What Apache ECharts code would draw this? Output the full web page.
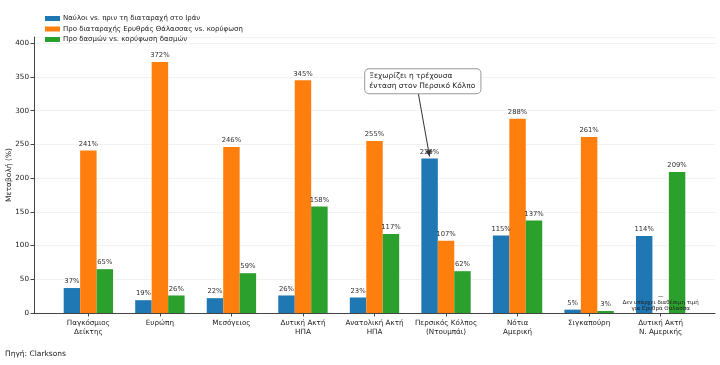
<!DOCTYPE html>
<html><head><meta charset="utf-8">
<script src="https://cdn.jsdelivr.net/npm/echarts@6/dist/echarts.min.js"></script>
<style>html,body{margin:0;padding:0;background:#fff}#c{width:720px;height:365px}</style>
</head><body><div id="c"></div>
<script>
const categories = ['Παγκόσμιος\nΔείκτης','Ευρώπη','Μεσόγειος','Δυτική Ακτή\nΗΠΑ','Ανατολική Ακτή\nΗΠΑ','Περσικός Κόλπος\n(Ντουμπάι)','Νότια\nΑμερική','Σιγκαπούρη','Δυτική Ακτή\nΝ. Αμερικής'];
const seriesNames = ['Ναύλοι vs. πριν τη διαταραχή στο Ιράν','Προ διαταραχής Ερυθράς Θάλασσας vs. κορύφωση','Προ δασμών vs. κορύφωση δασμών'];
const iranVals = [37, 19, 22, 26, 23, 229, 115, 5, 114];
const redSeaVals = [241, 372, 246, 345, 255, 107, 288, 261, null];
const tariffVals = [65, 26, 59, 158, 117, 62, 137, 3, 209];
const yTicks = [0,50,100,150,200,250,300,350,400];
const colors = ['#1f77b4','#ff7f0e','#2ca02c'];
const font = 'DejaVu Sans';
const off = 0.23;
function pts(vals, o){ return vals.map((v,i)=> v==null ? null : [i+o, v]).filter(p=>p); }
function mkSeries(name, vals, o, color){
  return {
    type:'custom', name, data: pts(vals,o), itemStyle:{color},
    encode:{x:0, y:1},
    renderItem:function(params, api){
      const x = api.value(0), y = api.value(1);
      const p0 = api.coord([x,0]), p1 = api.coord([x,y]);
      const w = api.size([off,0])[0];
      return {
        type:'rect',
        shape:{x:p0[0]-w/2, y:p1[1], width:w, height:p0[1]-p1[1]},
        style:{fill:color},
        textContent:{style:{text:y+'%', fontSize:6.8, fontFamily:font, fill:'#333'}},
        textConfig:{position:'top', distance:3}
      };
    }
  };
}
const chart = echarts.init(document.getElementById('c'), null, {renderer:'canvas'});
chart.setOption({
  animation:false,
  backgroundColor:'#fff',
  textStyle:{fontFamily:font},
  grid:{left:34, right:5, top:37, bottom:52, containLabel:false, outerBoundsMode:'none'},
  legend:{orient:'vertical', left:40, top:10, itemWidth:15, itemHeight:5, itemGap:3.5, icon:'rect',
    textStyle:{fontSize:7, fontFamily:font, color:'#222', padding:[0,0,0,-2]}, data:seriesNames},
  xAxis:{type:'value', min:-0.76, max:8.76,
    axisLine:{show:true, onZero:false, lineStyle:{color:'#444', width:1}},
    axisTick:{show:true, customValues:categories.map((c,i)=>i), length:3.5, lineStyle:{color:'#444'}},
    axisLabel:{customValues:categories.map((c,i)=>i), formatter:v=>categories[Math.round(v)], fontSize:7.2, color:'#222', fontFamily:font, lineHeight:9.5, margin:5},
    splitLine:{show:false}},
  yAxis:{type:'value', min:0, max:409.2, interval:50,
    name:'Μεταβολή (%)', nameLocation:'middle', nameGap:21, nameRotate:90, nameMoveOverlap:false,
    nameTextStyle:{fontSize:7.5, color:'#222', fontFamily:font},
    axisLine:{show:true, onZero:false, lineStyle:{color:'#444', width:1}},
    axisTick:{show:true, length:3.5, lineStyle:{color:'#444'}},
    axisLabel:{fontSize:7.2, color:'#222', fontFamily:font, margin:5, showMaxLabel:false, formatter:v=>yTicks.includes(v)?String(v):''},
    splitLine:{show:true, lineStyle:{color:'#efefef', width:0.8}}},
  series:[
    mkSeries(seriesNames[0], iranVals, -off, colors[0]),
    mkSeries(seriesNames[1], redSeaVals, 0, colors[1]),
    mkSeries(seriesNames[2], tariffVals, off, colors[2]),
    {type:'scatter', name:'annotations', data:[], silent:true,
      markLine:{silent:true, symbol:['none','arrow'], symbolSize:[5,7],
        lineStyle:{color:'#333', width:1, type:'solid'}, label:{show:false},
        data:[[{coord:[4.61,327]},{coord:[4.77,232]}]]},
      markPoint:{silent:true, symbol:'rect', symbolSize:1, itemStyle:{color:'rgba(0,0,0,0)'},
        data:[
          {coord:[3.87,343.7], label:{show:true, position:'inside', formatter:'Ξεχωρίζει η τρέχουσα\nένταση στον Περσικό Κόλπο',
            fontSize:7.5, lineHeight:10, color:'#222', fontFamily:font, align:'left',
            backgroundColor:'#fff', borderColor:'#999', borderWidth:1, borderRadius:4, padding:[2,5,2,4]}},
          {coord:[8,14.8], label:{show:true, position:'inside', formatter:'—\nΔεν υπάρχει διαθέσιμη τιμή\nγια Ερυθρά Θάλασσα',
            fontSize:5.5, lineHeight:6, color:'#222', fontFamily:font, align:'center'}}
        ]}
    }
  ],
  graphic:[{type:'text', left:5, top:350, style:{text:'Πηγή: Clarksons', fontSize:7.5, fill:'#222', fontFamily:font}}]
});
</script></body></html>
